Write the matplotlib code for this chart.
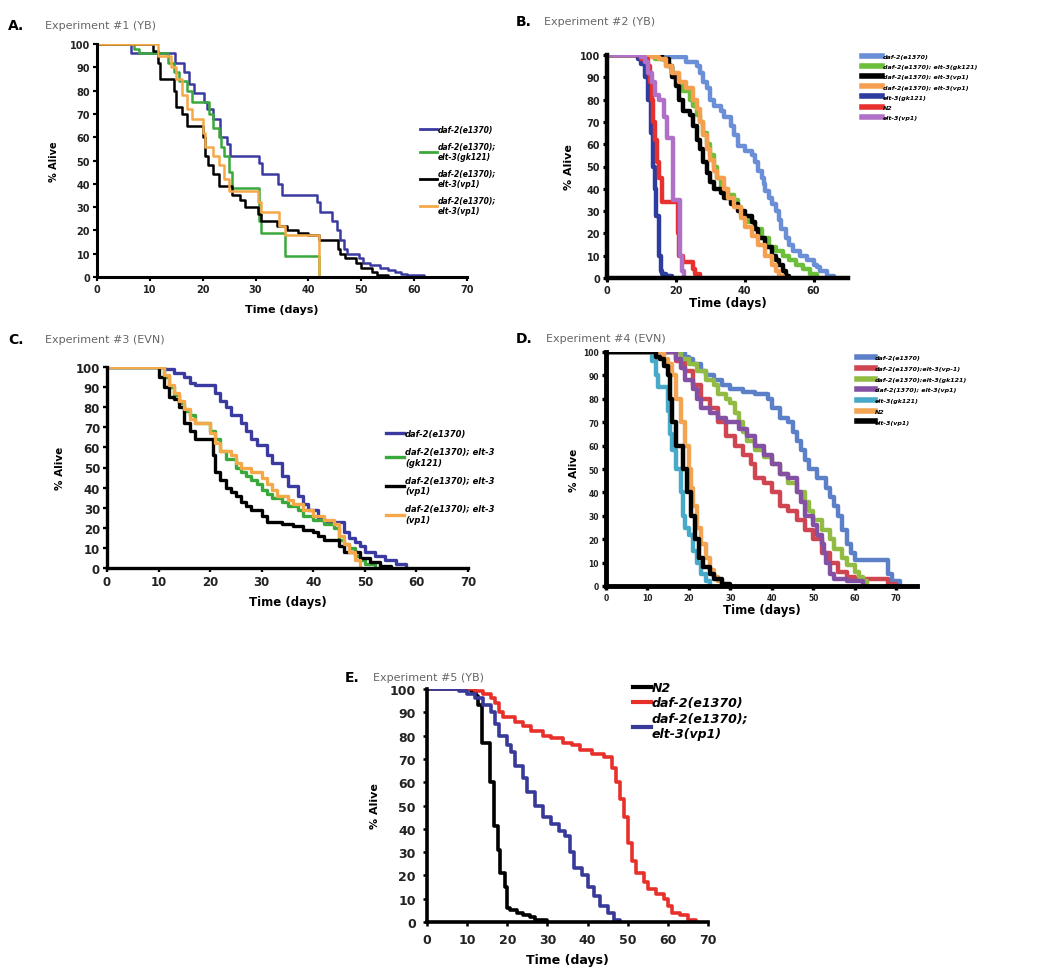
import matplotlib
matplotlib.use("Agg")
import matplotlib.pyplot as plt
from matplotlib.lines import Line2D

W, H = 1050, 979

# ---------------- Panel A : Experiment #1 (YB) ----------------
A_daf2_t = [0, 6.5, 14.8, 16.4, 17.4, 18.3, 20.2, 20.8, 22.0, 23.3, 24.6, 25.2, 30.6, 31.2, 34.2, 35.0, 41.6, 42.2, 44.4, 45.4, 46.0, 46.7, 47.3, 49.5, 50.4, 51.7, 53.6, 55.0, 56.4, 57.5, 58.6, 61.8]
A_daf2_s = [100, 96, 92, 88, 83, 79, 75, 72, 68, 60, 57, 52, 49, 44, 40, 35, 32, 28, 24, 20, 16, 12, 10, 8, 6, 5, 4, 3, 2, 1.5, 1, 0]
A_gk121_t = [0, 7, 8, 13.5, 14.5, 15.5, 17, 18, 19, 21.2, 22, 23, 23.5, 24, 25, 25.5, 30.6, 31, 35.5, 42]
A_gk121_s = [100, 98, 96, 92, 88, 84, 80, 75, 75, 70, 64, 60, 56, 52, 45, 38, 24, 19, 9, 0]
A_vp1_t = [0, 10.5, 11.5, 12, 14.5, 15, 16, 17, 20, 20.5, 21, 22, 23, 25.5, 27, 28, 30.5, 31, 34, 36, 38, 40, 42, 45.5, 46, 47, 49, 50, 52, 53, 55]
A_vp1_s = [100, 97, 92, 85, 80, 73, 70, 65, 60, 52, 48, 44, 39, 35, 33, 30, 27, 24, 22, 20, 19, 18, 16, 12, 10, 8, 6, 4, 2, 1, 0]
A_vp1b_t = [0, 11.5, 14, 15, 16, 17, 18, 20, 20.5, 22, 23, 24, 25, 30.5, 31, 34.5, 35.5, 42]
A_vp1b_s = [100, 95, 90, 85, 78, 72, 68, 62, 56, 52, 48, 42, 37, 32, 28, 22, 18, 0]
A_labels = ["daf-2(e1370)", "daf-2(e1370);\nelt-3(gk121)", "daf-2(e1370);\nelt-3(vp1)", "daf-2(e1370);\nelt-3(vp1)"]
A_colors = ["#3a3aa0", "#3aa83a", "#000000", "#f5a848"]

# ---------------- Panel B : Experiment #2 (YB) ----------------
B_daf2_t = [0, 19, 23, 26, 27, 28, 29, 30, 31, 33, 34, 36, 37, 38, 40, 42, 43, 44, 45, 45.5, 46, 47, 48, 49, 50, 50.5, 52, 53, 54, 56, 58, 60, 61, 62, 64, 66]
B_daf2_s = [100, 99, 97, 95, 92, 88, 85, 80, 77, 75, 72, 68, 64, 59, 57, 55, 52, 48, 45, 42, 39, 36, 33, 30, 26, 22, 18, 15, 12, 10, 8, 6, 5, 3, 1, 0]
B_dgk_t = [0, 14, 17, 19, 20, 21, 22, 24, 25, 26, 27, 28, 29, 30, 31, 32, 33, 35, 37, 38, 39, 41, 43, 45, 47, 49, 51, 53, 55, 57, 59, 61]
B_dgk_s = [100, 98, 95, 92, 90, 87, 84, 80, 77, 73, 70, 65, 60, 55, 50, 45, 40, 37, 35, 32, 28, 25, 22, 18, 14, 12, 10, 8, 6, 4, 2, 0]
B_dvp_t = [0, 16, 18, 19, 20, 21, 22, 24, 25, 26, 27, 28, 29, 30, 31, 33, 34, 36, 38, 40, 42, 43, 44, 46, 48, 49, 50, 51, 52, 53]
B_dvp_s = [100, 98, 95, 90, 86, 80, 75, 73, 68, 62, 58, 52, 47, 43, 40, 38, 36, 33, 30, 28, 25, 22, 18, 14, 10, 8, 6, 3, 1, 0]
B_dvp2_t = [0, 13, 15, 17, 19, 21, 23, 25, 26, 27, 28, 29, 30, 31, 32, 34, 35, 37, 39, 40, 42, 44, 46, 48, 49, 50, 51]
B_dvp2_s = [100, 99, 98, 95, 92, 88, 85, 80, 76, 70, 64, 58, 53, 48, 45, 40, 36, 32, 27, 23, 19, 15, 10, 6, 3, 1, 0]
B_egk_t = [0, 9, 10, 11, 12, 12.7, 13.3, 13.8, 14.3, 15.2, 15.6, 16, 17, 19]
B_egk_s = [100, 98, 96, 90, 80, 65, 50, 40, 28, 10, 3, 2, 1, 0]
B_n2_t = [0, 10, 12, 12.5, 13, 13.5, 14, 14.5, 15, 16, 20.5, 21, 22, 25, 25.7, 27]
B_n2_s = [100, 98, 95, 88, 80, 70, 62, 52, 45, 34, 20, 10, 7, 4, 2, 0]
B_evp_t = [0, 10, 11, 12, 13, 14, 15, 16.5, 17.5, 19.2, 21.3, 21.8, 22.5]
B_evp_s = [100, 99, 97, 92, 88, 82, 80, 72, 63, 35, 10, 3, 0]
B_labels = ["daf-2(e1370)", "daf-2(e1370); elt-3(gk121)", "daf-2(e1370); elt-3(vp1)", "daf-2(e1370); elt-3(vp1)", "elt-3(gk121)", "N2", "elt-3(vp1)"]
B_colors = ["#6b8fd6", "#6cbf3a", "#000000", "#f5a050", "#2e3c9e", "#e8302e", "#b070c8"]

# ---------------- Panel C : Experiment #3 (EVN) ----------------
C_daf2_t = [0, 11, 13, 15, 16, 17, 21, 22, 23, 24, 26, 27, 28, 29, 31, 32, 34, 35, 37, 38, 39, 41, 42, 46, 47, 48, 49, 50, 52, 54, 56, 58]
C_daf2_s = [100, 99, 97, 95, 92, 91, 87, 83, 80, 76, 72, 68, 64, 61, 56, 52, 46, 41, 36, 32, 29, 25, 23, 18, 15, 13, 11, 8, 6, 4, 2, 0]
C_gk_t = [0, 11, 12, 13, 14, 15, 16, 17, 20, 21, 22, 23, 25, 26, 27, 28, 29, 30, 31, 32, 34, 35, 37, 38, 40, 42, 44, 45, 46, 47, 48, 49, 50, 52]
C_gk_s = [100, 95, 90, 86, 82, 78, 76, 72, 68, 64, 58, 54, 50, 48, 46, 44, 42, 39, 37, 35, 33, 31, 29, 26, 24, 22, 20, 14, 12, 10, 6, 4, 2, 0]
C_vp_t = [0, 10, 11, 12, 13, 14, 15, 16, 17, 20.5, 21, 22, 23, 24, 25, 26, 27, 28, 30, 31, 34, 36, 38, 40, 41, 42, 45, 46, 49, 51, 53, 55]
C_vp_s = [100, 95, 90, 85, 84, 80, 72, 68, 64, 56, 48, 44, 40, 38, 36, 33, 31, 29, 26, 23, 22, 21, 19, 18, 16, 14, 11, 8, 5, 3, 1, 0]
C_vp2_t = [0, 11, 12, 13, 14, 15, 16, 17, 20, 21, 22, 24, 25, 26, 28, 30, 31, 32, 33, 35, 36, 38, 40, 42, 44, 45, 46, 47, 48, 49]
C_vp2_s = [100, 96, 91, 87, 83, 79, 74, 72, 67, 62, 58, 56, 52, 50, 48, 45, 42, 39, 36, 34, 32, 29, 26, 24, 22, 16, 12, 8, 4, 0]
C_labels = ["daf-2(e1370)", "daf-2(e1370); elt-3\n(gk121)", "daf-2(e1370); elt-3\n(vp1)", "daf-2(e1370); elt-3\n(vp1)"]
C_colors = ["#3a3aa0", "#3aa83a", "#000000", "#f5a848"]

# ---------------- Panel D : Experiment #4 (EVN) ----------------
D_daf2_t = [0, 19, 20, 21, 23, 24, 26, 28, 30, 33, 36, 39, 40, 42, 44, 45, 46, 47, 48, 49, 51, 53, 54, 55, 56, 57, 58, 59, 60, 68, 69, 71]
D_daf2_s = [100, 98, 97, 95, 92, 90, 88, 86, 84, 83, 82, 80, 76, 72, 70, 66, 62, 58, 54, 50, 46, 42, 38, 34, 30, 24, 18, 14, 11, 5, 2, 0]
D_dvp_t = [0, 17, 19, 21, 23, 25, 27, 29, 31, 33, 35, 36, 38, 40, 42, 44, 46, 48, 50, 52, 54, 56, 58, 60, 62, 68, 70]
D_dvp_s = [100, 96, 92, 86, 80, 76, 70, 64, 60, 56, 52, 46, 44, 40, 34, 32, 28, 24, 20, 14, 10, 6, 4, 3, 3, 1, 0]
D_dgk_t = [0, 18, 20, 22, 24, 26, 27, 29, 30, 31, 32, 33, 34, 36, 38, 40, 42, 44, 46, 48, 49, 50, 52, 54, 55, 57, 58, 60, 61, 62, 63]
D_dgk_s = [100, 97, 95, 92, 88, 86, 82, 80, 78, 74, 70, 66, 62, 58, 55, 52, 48, 44, 40, 36, 32, 28, 24, 20, 16, 12, 9, 6, 4, 2, 0]
D_dvp1_t = [0, 17, 18, 19, 21, 22, 23, 25, 27, 29, 32, 34, 36, 38, 40, 42, 44, 46, 47, 48, 50, 51, 52, 52.5, 53, 54, 55, 58, 62]
D_dvp1_s = [100, 97, 93, 88, 84, 80, 76, 74, 72, 70, 67, 64, 60, 56, 52, 48, 46, 40, 36, 30, 26, 22, 18, 14, 10, 5, 3, 2, 0]
D_egk_t = [0, 11, 12, 12.5, 13, 15, 15.5, 16, 17, 18, 18.5, 19, 20, 21, 22, 23, 24, 25]
D_egk_s = [100, 96, 90, 85, 85, 75, 65, 58, 50, 40, 30, 25, 22, 15, 10, 5, 2, 0]
D_n2_t = [0, 14, 15, 16, 17, 18, 19, 20, 20.5, 21, 22, 23, 24, 25, 26, 27, 28]
D_n2_s = [100, 97, 95, 90, 80, 70, 60, 50, 42, 34, 25, 18, 12, 7, 4, 2, 0]
D_evp_t = [0, 12, 13, 14, 15, 15.5, 16, 17, 18.5, 19.5, 20.5, 21.5, 22.5, 23.5, 25, 26, 28, 30]
D_evp_s = [100, 98, 97, 94, 90, 80, 70, 60, 50, 40, 30, 20, 12, 8, 5, 3, 1, 0]
D_labels = ["daf-2(e1370)", "daf-2(e1370);elt-3(vp-1)", "daf-2(e1370);elt-3(gk121)", "daf-2(1370); elt-3(vp1)", "elt-3(gk121)", "N2", "elt-3(vp1)"]
D_colors = ["#5b80c8", "#d04552", "#92bb44", "#8450a4", "#48aac8", "#f2a452", "#000000"]

# ---------------- Panel E : Experiment #5 (YB) ----------------
E_n2_t = [0, 11, 12.2, 12.6, 13.7, 15.8, 16.6, 17.6, 18.3, 19.5, 20.0, 20.8, 22.4, 24, 25.7, 27, 29.8]
E_n2_s = [100, 99, 97, 93, 77, 60, 41, 31, 21, 15, 6, 5, 4, 3, 2, 1, 0]
E_daf2_t = [0, 12, 14, 16, 17, 18, 19, 22, 24, 26, 29, 31, 34, 36, 38, 41, 44, 46, 47, 48, 49, 50, 51, 52, 54, 55, 57, 59, 60, 61, 63, 65, 67]
E_daf2_s = [100, 99, 98, 96, 94, 90, 88, 86, 84, 82, 80, 79, 77, 76, 74, 72, 71, 66, 60, 53, 45, 34, 26, 21, 17, 14, 12, 10, 7, 4, 3, 1, 0]
E_dvp_t = [0, 8, 10, 12, 14, 16, 17, 18, 20, 21, 22, 24, 25, 27, 29, 31, 33, 34.5, 35.5, 36.5, 38.5, 40, 41.5, 43, 45, 46.5, 48]
E_dvp_s = [100, 99, 98, 96, 93, 90, 85, 80, 76, 73, 67, 62, 56, 50, 45, 42, 39, 37, 30, 23, 20, 15, 11, 7, 4, 1, 0]
E_labels = ["N2", "daf-2(e1370)", "daf-2(e1370);\nelt-3(vp1)"]
E_colors = ["#000000", "#e8302a", "#383a9a"]

Y_TICKS = [0, 10, 20, 30, 40, 50, 60, 70, 80, 90, 100]

fig = plt.figure(figsize=(W / 100, H / 100), dpi=100)
fig.patch.set_facecolor("white")


def px_axes(x0, y0, x1, y1):
    return fig.add_axes([x0 / W, 1 - y1 / H, (x1 - x0) / W, (y1 - y0) / H])


def style(ax, xmax, xticks, tick_fs, lab_fs, ylab_fs, spine_w, xpad, ypad, tpad=2):
    ax.set_xlim(0, xmax)
    ax.set_ylim(0, 100)
    ax.set_xticks(xticks)
    ax.set_yticks(Y_TICKS)
    for s in ["top", "right"]:
        ax.spines[s].set_visible(False)
    for s in ["left", "bottom"]:
        ax.spines[s].set_linewidth(spine_w)
    ax.tick_params(direction="out", length=3, width=spine_w * 0.7, labelsize=tick_fs, pad=tpad)
    for lab in ax.get_xticklabels() + ax.get_yticklabels():
        lab.set_fontweight("bold")
        lab.set_color("#222222")
    ax.set_xlabel("Time (days)", fontsize=lab_fs, fontweight="bold", labelpad=xpad)
    ax.set_ylabel("% Alive", fontsize=ylab_fs, fontweight="bold", labelpad=ypad)
    ax.patch.set_alpha(0)


def legend_at(ax, colors, labels, x, y, fs, lw, spacing, hl=2.0):
    handles = [Line2D([0], [0], color=c, lw=lw) for c in colors]
    ax.legend(handles, labels, loc="upper left", bbox_to_anchor=(x / W, 1 - y / H),
              bbox_transform=fig.transFigure, frameon=False,
              prop={"size": fs, "weight": "bold", "style": "italic"},
              handlelength=hl, handletextpad=0.1, labelspacing=spacing,
              borderpad=0, borderaxespad=0)


def header(x, y, letter, text, dx):
    fig.text(x / W, 1 - y / H, letter, fontsize=10, fontweight="bold", va="center", ha="left")
    fig.text((x + dx) / W, 1 - y / H, text, fontsize=8, color="#666666", va="center", ha="left")


# ---- A ----
axA = px_axes(97, 45, 467, 278)
for t, s, c in zip([A_daf2_t, A_gk121_t, A_vp1_t, A_vp1b_t], [A_daf2_s, A_gk121_s, A_vp1_s, A_vp1b_s], A_colors):
    axA.step(t, s, where="post", color=c, lw=1.8)
style(axA, 70, list(range(0, 71, 10)), 7, 8, 7, 2.2, 7, 8)
legend_at(axA, A_colors, A_labels, 420, 126, 5.5, 2.0, 1.0, 2.2)
header(8, 26, "A.", "Experiment #1 (YB)", 37)

# ---- B ----
axB = px_axes(607, 56, 848, 279)
for t, s, c in zip([B_daf2_t, B_dgk_t, B_dvp_t, B_dvp2_t, B_egk_t, B_n2_t, B_evp_t],
                   [B_daf2_s, B_dgk_s, B_dvp_s, B_dvp2_s, B_egk_s, B_n2_s, B_evp_s], B_colors):
    axB.step(t, s, where="post", color=c, lw=3.2)
style(axB, 70, [0, 20, 40, 60], 7, 8.5, 8, 3.2, 1, 4)
legend_at(axB, B_colors, B_labels, 862, 55, 4.5, 4.0, 0.75, 3.2)
header(516, 22, "B.", "Experiment #2 (YB)", 28)

# ---- C ----
axC = px_axes(107, 368, 468, 569)
for t, s, c in zip([C_daf2_t, C_gk_t, C_vp_t, C_vp2_t], [C_daf2_s, C_gk_s, C_vp_s, C_vp2_s], C_colors):
    axC.step(t, s, where="post", color=c, lw=2.4)
style(axC, 70, list(range(0, 71, 10)), 8.5, 8.5, 7.5, 2.4, 5, 8)
legend_at(axC, C_colors, C_labels, 386, 430, 6, 2.4, 1.1, 2.2)
header(8, 340, "C.", "Experiment #3 (EVN)", 37)

# ---- D ----
axD = px_axes(606, 353, 917, 587)
for t, s, c in zip([D_daf2_t, D_dvp_t, D_dgk_t, D_dvp1_t, D_egk_t, D_n2_t, D_evp_t],
                   [D_daf2_s, D_dvp_s, D_dgk_s, D_dvp1_s, D_egk_s, D_n2_s, D_evp_s], D_colors):
    axD.step(t, s, where="post", color=c, lw=3.2)
style(axD, 75, list(range(0, 71, 10)), 5.5, 8.5, 7.5, 3.5, 1, 3)
legend_at(axD, D_colors, D_labels, 857, 356, 4.5, 4.0, 0.85, 2.8)
header(516, 339, "D.", "Experiment #4 (EVN)", 30)

# ---- E ----
axE = px_axes(427, 690, 708, 923)
for t, s, c in zip([E_n2_t, E_daf2_t, E_dvp_t], [E_n2_s, E_daf2_s, E_dvp_s], E_colors):
    axE.step(t, s, where="post", color=c, lw=2.6)
style(axE, 70, list(range(0, 71, 10)), 9, 9, 8, 2.6, 5, 7, 5)
legend_at(axE, E_colors, E_labels, 633, 682, 9, 3.0, 0.2, 1.4)
header(345, 678, "E.", "Experiment #5 (YB)", 28)

fig.savefig("out.png", dpi=100, facecolor="white")
